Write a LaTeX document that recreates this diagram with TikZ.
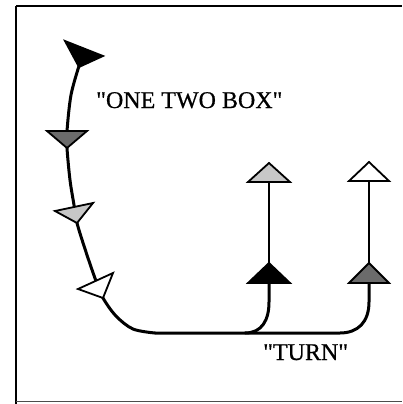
\documentclass[tikz,border=0pt]{standalone}
\usepackage{fontspec}
\setmainfont{Liberation Serif}
\newfontfamily\lblfont{Liberation Serif}[FakeBold=0.6]
\begin{document}
\begin{tikzpicture}[x=1pt,y=-1pt,
  curveline/.style={line width=3pt,line cap=round,line join=round},
  stemline/.style={line width=2.5pt},
  tri/.style={draw=black,line width=1.8pt,line join=miter},
  darkfill/.style={fill=black!58},
  lightfill/.style={fill=black!22},
  lbl/.style={anchor=base west,inner sep=0pt,font=\lblfont\fontsize{24}{28}\selectfont}]
\useasboundingbox (0,0) rectangle (402,404);
% frame
\coordinate (ftl) at (16,6);
\coordinate (ftr) at (402,6);
\coordinate (fbl) at (16,404);
\coordinate (bl) at (16,401.5);
\coordinate (br) at (402,401.5);
\draw[line width=2pt] (fbl) -- (ftl);
\draw[line width=1.5pt] (ftl) -- (ftr);
\draw[line width=1pt,black!70] (bl) -- (br);
% main curve
\draw[curveline] plot[smooth,tension=0.55] coordinates
  {(79,66) (71,95) (67,131) (67,148) (70,180) (74,205) (77,223) (86,252) (96,281) (103,298) (116,316) (133,329) (155,333)};
\coordinate (h1) at (155,333);
\coordinate (h2) at (340,333);
\coordinate (v2) at (369,283);
\coordinate (b1) at (245,333);
\coordinate (v1) at (269,283);
\draw[curveline] (h1) -- (h2) .. controls (358,333) and (369,322) .. (369,302) -- (v2);
\draw[curveline] (b1) .. controls (262,333) and (269,320) .. (269,302) -- (v1);
% stems
\coordinate (s1b) at (269,263);
\coordinate (s1t) at (269,182);
\coordinate (s2b) at (369,263);
\coordinate (s2t) at (369,181);
\draw[stemline] (s1b) -- (s1t);
\draw[stemline] (s2b) -- (s2t);
% markers on left curve
\filldraw[tri,fill=black] (65,41) -- (103,56) -- (79,67) -- cycle;
\filldraw[tri,darkfill] (47,131) -- (87,131) -- (67,148) -- cycle;
\filldraw[tri,lightfill] (55,211) -- (93,203) -- (77,223) -- cycle;
\filldraw[tri,fill=white] (78,289) -- (113,273) -- (103,298) -- cycle;
% markers on stems
\filldraw[tri,lightfill] (248,182) -- (269,163) -- (290,182) -- cycle;
\filldraw[tri,fill=black] (248,283) -- (269,263) -- (290,283) -- cycle;
\filldraw[tri,fill=white] (349,181) -- (369,162) -- (389,181) -- cycle;
\filldraw[tri,darkfill] (349,283) -- (369,263) -- (389,283) -- cycle;
% labels
\node[lbl] (one) at (96,108) {\symbol{34}ONE TWO BOX\symbol{34}};
\node[lbl] (turn) at (263,360) {\symbol{34}TURN\symbol{34}};
\end{tikzpicture}
\end{document}
